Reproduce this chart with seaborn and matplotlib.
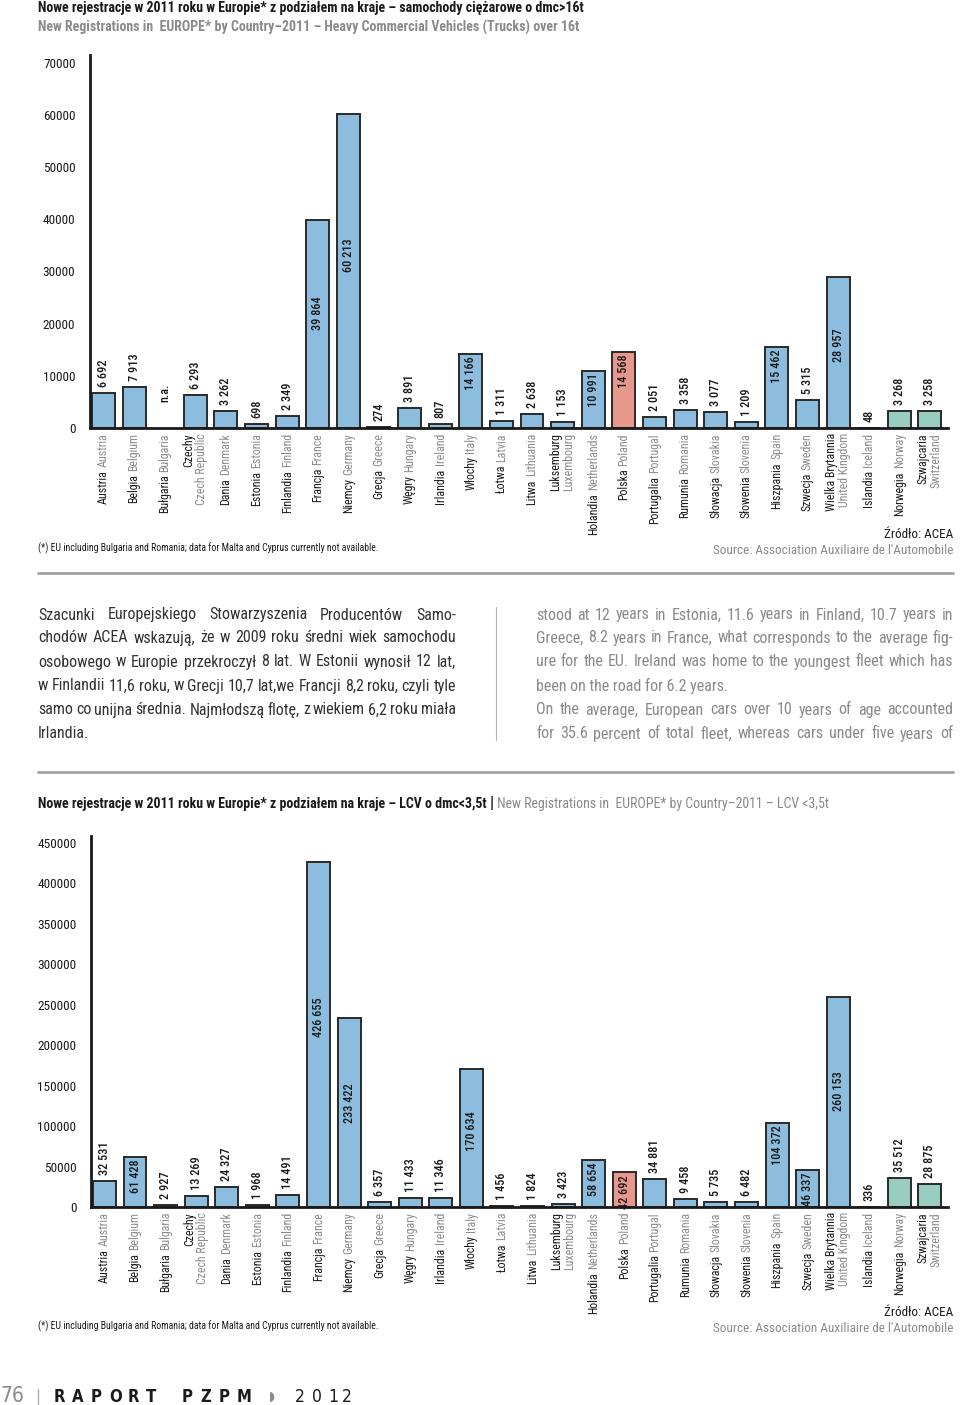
import numpy as np
import pandas as pd
import seaborn as sns
import matplotlib
matplotlib.use("Agg")
import matplotlib.pyplot as plt
import matplotlib.transforms as mtransforms
import matplotlib.font_manager as fm
from matplotlib.lines import Line2D

# data
countries_pl = ["Austria", "Belgia", "Bułgaria", "Czechy", "Dania", "Estonia", "Finlandia",
                "Francja", "Niemcy", "Grecja", "Węgry", "Irlandia", "Włochy", "Łotwa", "Litwa",
                "Luksemburg", "Holandia", "Polska", "Portugalia", "Rumunia", "Słowacja",
                "Słowenia", "Hiszpania", "Szwecja", "Wielka Brytannia", "Islandia", "Norwegia",
                "Szwajcaria"]
countries_en = ["Austria", "Belgium", "Bulgaria", "Czech Republic", "Denmark", "Estonia",
                "Finland", "France", "Germany", "Greece", "Hungary", "Ireland", "Italy", "Latvia",
                "Lithuania", "Luxembourg", "Netherlands", "Poland", "Portugal", "Romania",
                "Slovakia", "Slovenia", "Spain", "Sweden", "United Kingdom", "Iceland", "Norway",
                "Switzerland"]
two_line = ["Czechy", "Luksemburg", "Wielka Brytannia", "Szwajcaria"]
groups = ["eu"] * 17 + ["pl"] + ["eu"] * 8 + ["efta"] * 2

trucks = [6692, 7913, np.nan, 6293, 3262, 698, 2349, 39864, 60213, 274, 3891, 807, 14166,
          1311, 2638, 1153, 10991, 14568, 2051, 3358, 3077, 1209, 15462, 5315, 28957, 48,
          3268, 3258]
lcv = [32531, 61428, 2927, 13269, 24327, 1968, 14491, 426655, 233422, 6357, 11433, 11346,
       170634, 1456, 1824, 3423, 58654, 42692, 34881, 9458, 5735, 6482, 104372, 46337,
       260153, 336, 35512, 28875]

palette = {"eu": "#7fc0ec", "pl": "#f68c7c", "efta": "#8fd6c4"}
DARK = "#1a1a1a"
GRAY = "#8c8c8c"

sns.set_style("white")

# look for a narrow font, the page uses a condensed face
fam, stretch = "Roboto", "normal"
avail = fm.fontManager.ttflist
prefs = ["Liberation Sans Narrow", "Roboto Condensed", "Noto Sans", "Open Sans", "DejaVu Sans"]
found = False
for p in prefs:
    for f in avail:
        narrow = ("Narrow" in f.name or "Condensed" in f.name
                  or f.stretch in ("condensed", "semi-condensed", "extra-condensed"))
        if f.name == p and narrow and f.style == "normal":
            fam, stretch = f.name, f.stretch
            found = True
            break
    if found:
        break
plt.rcParams["font.family"] = [fam, "DejaVu Sans"]
plt.rcParams["font.stretch"] = stretch
scale = 1.0 if found else 0.88

fig = plt.figure(figsize=(9.6, 14.05), dpi=100)
r = fig.canvas.get_renderer()
px = mtransforms.Affine2D().scale(1 / 960, -1 / 1405).translate(0, 1) + fig.transFigure


def fs(v):
    return v * scale


def width_of(t):
    return t.get_window_extent(r).width


def draw_chart(ax, values, ytop, yticks, inside_min, mid_min):
    df = pd.DataFrame({"country": countries_en, "value": values, "group": groups})
    sns.barplot(data=df, x="country", y="value", hue="group", order=countries_en,
                palette=palette, dodge=False, width=0.75, edgecolor="#2a2a2a",
                linewidth=1.4, errorbar=None, legend=False, ax=ax)
    ax.set_xlim(-0.44, 27.59)
    ax.set_ylim(0, ytop)
    ax.set_yticks(list(yticks) + [ytop])
    ax.set_yticklabels([str(v) for v in yticks] + [""])
    ax.set_xticks(np.arange(28) + 0.5)
    ax.tick_params(axis="y", direction="in", length=7, width=1.8, pad=10.5,
                   labelsize=fs(9.5), color=DARK, labelcolor=DARK)
    ax.tick_params(axis="x", direction="in", length=8, width=1.8, labelbottom=False,
                   color=DARK)
    ax.set_xlabel("")
    ax.set_ylabel("")
    for side in ["top", "right"]:
        ax.spines[side].set_visible(False)
    for side in ["left", "bottom"]:
        ax.spines[side].set_linewidth(2)
        ax.spines[side].set_color(DARK)

    base = mtransforms.blended_transform_factory(ax.transData, ax.transAxes)
    vkw = dict(rotation=90, ha="center", fontsize=fs(8.8), color=DARK, fontweight="medium")

    # value labels
    for i, v in enumerate(values):
        if np.isnan(v):
            ax.text(i, 0, "n.a.", va="bottom",
                    transform=mtransforms.offset_copy(ax.transData, fig, 0, 26, units="dots"), **vkw)
            continue
        lab = f"{int(v):,}".replace(",", " ")
        if v >= mid_min:
            ax.text(i, 0.55 * v, lab, va="center", **vkw)
        elif v >= inside_min:
            ax.text(i, v, lab, va="top",
                    transform=mtransforms.offset_copy(ax.transData, fig, 0, -2.5, units="dots"), **vkw)
        else:
            ax.text(i, v, lab, va="bottom",
                    transform=mtransforms.offset_copy(ax.transData, fig, 0, 6, units="dots"), **vkw)

    # country labels
    for i, (pl, en) in enumerate(zip(countries_pl, countries_en)):
        kw = dict(rotation=90, ha="center", va="top", fontsize=fs(8.6))
        if pl in two_line:
            ax.text(i, 0, pl, color=DARK,
                    transform=mtransforms.offset_copy(base, fig, -6.5, -5, units="dots"), **kw)
            ax.text(i, 0, en, color=GRAY,
                    transform=mtransforms.offset_copy(base, fig, 6.5, -5, units="dots"), **kw)
        else:
            t = ax.text(i, 0, en, color=GRAY,
                        transform=mtransforms.offset_copy(base, fig, 0, -5, units="dots"), **kw)
            h = t.get_window_extent(r).height
            ax.text(i, 0, pl, color=DARK,
                    transform=mtransforms.offset_copy(base, fig, 0, -5 - h - 3, units="dots"), **kw)


ax1 = fig.add_axes([90 / 960, 1 - 428 / 1405, (948 - 90) / 960, (428 - 55) / 1405])
draw_chart(ax1, trucks, 71500, range(0, 70001, 10000), 10000, 25000)

ax2 = fig.add_axes([91 / 960, 1 - 1207 / 1405, (948 - 91) / 960, (1207 - 836) / 1405])
draw_chart(ax2, lcv, 458600, range(0, 450001, 50000), 40000, 130000)

# titles
fig.text(38, 8, "Nowe rejestracje w 2011 roku w Europie* z podziałem na kraje – samochody ciężarowe o dmc>16t",
         transform=px, va="center", fontsize=fs(10), fontweight="bold", color=DARK)
fig.text(38, 27, "New Registrations in  EUROPE* by Country–2011 – Heavy Commercial Vehicles (Trucks) over 16t",
         transform=px, va="center", fontsize=fs(10), fontweight="bold", color="#8a8a8a")

t = fig.text(38, 804, "Nowe rejestracje w 2011 roku w Europie* z podziałem na kraje – LCV o dmc<3,5t",
             transform=px, va="center", fontsize=fs(10), fontweight="bold", color=DARK)
w = width_of(t)
fig.text(38 + w + 3, 804, "|", transform=px, va="center", fontsize=fs(11.5), fontweight="bold", color=DARK)
fig.text(38 + w + 10, 804, "New Registrations in  EUROPE* by Country–2011 – LCV <3,5t",
         transform=px, va="center", fontsize=fs(10), color="#8a8a8a")

# notes and sources
note = "(*) EU including Bulgaria and Romania; data for Malta and Cyprus currently not available."
for yn, ys in [(548, 535), (1326, 1312)]:
    fig.text(38, yn, note, transform=px, va="center", fontsize=fs(7), color=DARK)
    fig.text(953, ys, "Źródło: ACEA", transform=px, va="center", ha="right", fontsize=fs(9.5), color=DARK)
    fig.text(953, ys + 16, "Source: Association Auxiliaire de l'Automobile", transform=px,
             va="center", ha="right", fontsize=fs(9.5), color="#8a8a8a")

# separators
for yy in [573, 772]:
    fig.add_artist(Line2D([38, 953], [yy, yy], transform=px, color="#a0a0a0", lw=2))
fig.add_artist(Line2D([496, 496], [607, 740], transform=px, color="#b5b5b5", lw=0.8))

# paragraph text
left_lines = [
    "Szacunki Europejskiego Stowarzyszenia Producentów Samo-",
    "chodów ACEA wskazują, że w 2009 roku średni wiek samochodu",
    "osobowego w Europie przekroczył 8 lat. W Estonii wynosił 12 lat,",
    "w Finlandii 11,6 roku, w Grecji 10,7 lat,we Francji 8,2 roku, czyli tyle",
    "samo co unijna średnia. Najmłodszą flotę, z wiekiem 6,2 roku miała",
    "Irlandia.",
]
right_lines = [
    "stood at 12 years in Estonia, 11.6 years in Finland, 10.7 years in",
    "Greece, 8.2 years in France, what corresponds to the average fig-",
    "ure for the EU. Ireland was home to the youngest fleet which has",
    "been on the road for 6.2 years.",
    "On the average, European cars over 10 years of age accounted",
    "for 35.6 percent of total fleet, whereas cars under five years of",
]
left_justify = [True, True, True, True, True, False]
right_justify = [True, True, True, False, True, True]


def text_line(line, x0, x1, y, color, justify):
    size = fs(11.5)
    if not justify:
        fig.text(x0, y, line, transform=px, va="center", fontsize=size, color=color)
        return
    words = line.split()
    while True:
        ts = [fig.text(x0, y, wd, transform=px, va="center", fontsize=size, color=color)
              for wd in words]
        ws = [width_of(tt) for tt in ts]
        gap = (x1 - x0 - sum(ws)) / (len(words) - 1)
        if gap >= 2.5 or size < 7:
            break
        for tt in ts:
            tt.remove()
        size -= 0.25
    x = x0
    for tt, ww in zip(ts, ws):
        tt.set_x(x)
        x += ww + gap


for k, yy in enumerate([615, 638, 662, 686, 710, 734]):
    text_line(left_lines[k], 38, 456, yy, "#333333", left_justify[k])
    text_line(right_lines[k], 536, 953, yy, "#8a8a8a", right_justify[k])

# footer
fig.text(1, 1396, "76", transform=px, va="center", fontsize=15, color="#8a8a8a", family="DejaVu Sans")
fig.add_artist(Line2D([38, 38], [1389, 1404], transform=px, color="#b0b0b0", lw=1))
x = 54
for ch in "RAPORT PZPM":
    if ch != " ":
        fig.text(x, 1397, ch, transform=px, va="center", fontsize=12, fontweight="bold",
                 color=DARK, family="DejaVu Sans")
    x += 18.3
fig.text(272, 1397, "◗", transform=px, va="center", ha="center", fontsize=9, color="#8a8a8a",
         family="DejaVu Sans")
for ch, xx in zip("2012", [295, 312, 328, 342]):
    fig.text(xx, 1397, ch, transform=px, va="center", fontsize=12.5, color=DARK, family="DejaVu Sans")

fig.savefig("out.png", dpi=100)
